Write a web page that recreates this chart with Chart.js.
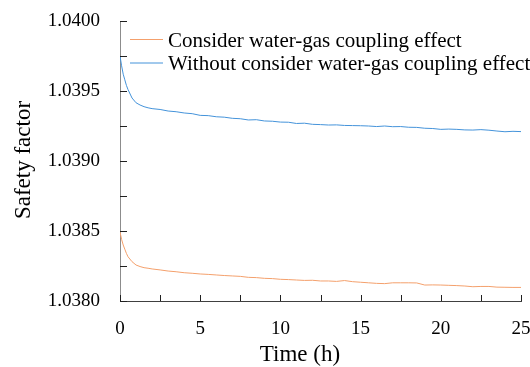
<!DOCTYPE html>
<html>
<head>
<meta charset="utf-8">
<script src="https://cdn.jsdelivr.net/npm/chart.js@4"></script>
<style>
  body { margin: 0; background: #fff; }
</style>
</head>
<body>
<canvas id="safetyChart" width="530" height="367"></canvas>
<script>
//=[ Data ]=====================================================================

const timeHours = [
  0, 0.1, 0.2, 0.3, 0.4, 0.5, 0.75, 1, 1.25, 1.5, 1.75, 2,
  2.5, 3, 3.5, 4, 4.5, 5, 5.5, 6, 6.5, 7, 7.5, 8, 8.5, 9, 9.5, 10,
  10.5, 11, 11.5, 12, 12.5, 13, 13.5, 14, 14.5, 15, 15.5, 16, 16.5, 17,
  17.5, 18, 18.5, 19, 19.5, 20, 20.5, 21, 21.5, 22, 22.5, 23, 23.5, 24,
  24.5, 25,
];

const coupledSafety = [
  1.038493, 1.03844, 1.0384, 1.03837, 1.03834, 1.038316, 1.038281, 1.038257,
  1.038246, 1.038238, 1.038234, 1.038229,
  1.038222, 1.038214, 1.038209, 1.038202, 1.038198, 1.038193, 1.03819, 1.038186,
  1.038182, 1.038179, 1.038176, 1.038169, 1.038167, 1.038162, 1.03816, 1.038155,
  1.038153, 1.03815, 1.038147, 1.038148, 1.038143, 1.038143, 1.03814, 1.038146,
  1.038138, 1.038134, 1.03813, 1.038126, 1.038124, 1.03813, 1.03813, 1.03813,
  1.038129, 1.038114, 1.038115, 1.038114, 1.038112, 1.03811, 1.038107, 1.038102,
  1.038104, 1.038104, 1.038099, 1.038098, 1.038097, 1.038097,
];

const uncoupledSafety = [
  1.03975, 1.03968, 1.03962, 1.03958, 1.03954, 1.03951, 1.03945, 1.039416,
  1.0394, 1.039388, 1.03938, 1.039374,
  1.039368, 1.039357, 1.039352, 1.039343, 1.039338, 1.039326, 1.039324, 1.039316,
  1.039313, 1.039305, 1.039302, 1.039293, 1.039295, 1.039286, 1.039284, 1.039278,
  1.039277, 1.039268, 1.03927, 1.039262, 1.03926, 1.039257, 1.039258, 1.039254,
  1.039253, 1.039252, 1.03925, 1.039246, 1.03925, 1.039245, 1.039246, 1.039241,
  1.03924, 1.039234, 1.039232, 1.039226, 1.039228, 1.039226, 1.039222, 1.039221,
  1.039224, 1.03922, 1.039214, 1.039209, 1.039212, 1.03921,
];

const seriesLabels = [
  "Consider water-gas coupling effect",
  "Without consider water-gas coupling effect",
];

const xTicks = [0, 2.5, 5, 7.5, 10, 12.5, 15, 17.5, 20, 22.5, 25];
const yTicks = [1.038, 1.03825, 1.0385, 1.03875, 1.039, 1.03925, 1.0395, 1.03975, 1.04];

//=[ Chart ]====================================================================

const SERIF = "'Liberation Serif', 'Times New Roman', serif";
const TICK_FONT = { family: SERIF, size: 19 };

const toPoints = (ys) => ys.map((y, i) => ({ x: timeHours[i], y }));

// inward tick marks, axis titles and the in-plot legend
const innerDecor = {
  id: "innerDecor",
  afterDraw(chart) {
    const { ctx, chartArea, scales } = chart;
    ctx.save();
    ctx.strokeStyle = "#202020";
    ctx.lineWidth = 1;
    ctx.beginPath();
    xTicks.forEach((v) => {
      const px = Math.round(scales.x.getPixelForValue(v)) + 0.5;
      ctx.moveTo(px, chartArea.bottom);
      ctx.lineTo(px, chartArea.bottom - 6);
    });
    yTicks.forEach((v) => {
      const py = Math.round(scales.y.getPixelForValue(v)) + 0.5;
      ctx.moveTo(chartArea.left, py);
      ctx.lineTo(chartArea.left + 7, py);
    });
    ctx.stroke();

    ctx.fillStyle = "#000";
    ctx.textBaseline = "alphabetic";
    ctx.textAlign = "center";
    ctx.font = `23px ${SERIF}`;
    ctx.fillText("Time (h)", 300, 361);
    ctx.save();
    ctx.translate(30, 160);
    ctx.rotate(-Math.PI / 2);
    ctx.fillText("Safety factor", 0, 0);
    ctx.restore();

    ctx.textAlign = "left";
    ctx.font = `21px ${SERIF}`;
    chart.data.datasets.forEach((ds, i) => {
      const ly = 39.5 + i * 23.5;
      ctx.strokeStyle = ds.borderColor;
      ctx.beginPath();
      ctx.moveTo(130, ly);
      ctx.lineTo(163, ly);
      ctx.stroke();
      ctx.fillText(ds.label, 168, ly + 7);
    });
    ctx.restore();
  },
};

const safetyConfig = {
  type: "line",
  data: {
    datasets: [
      {
        label: seriesLabels[0],
        data: toPoints(coupledSafety),
        borderColor: "#f4a06c",
      },
      {
        label: seriesLabels[1],
        data: toPoints(uncoupledSafety),
        borderColor: "#4493da",
      },
    ],
  },
  options: {
    responsive: false,
    animation: false,
    layout: { padding: { top: 21, right: 9, left: 0, bottom: 0 } },
    elements: {
      line: { borderWidth: 1, tension: 0 },
      point: { radius: 0 },
    },
    scales: {
      x: {
        type: "linear",
        min: 0,
        max: 25,
        afterBuildTicks: (scale) => {
          scale.ticks = xTicks.map((value) => ({ value }));
        },
        afterFit: (scale) => {
          scale.height = 66;
          scale.paddingLeft = 0;
          scale.paddingRight = 0;
        },
        grid: { display: false, drawTicks: false },
        border: { display: true, color: "#404040", width: 1 },
        ticks: {
          autoSkip: false,
          maxRotation: 0,
          padding: 17,
          color: "#000",
          font: TICK_FONT,
          callback: (v) => (v % 5 === 0 ? String(v) : ""),
        },
      },
      y: {
        min: 1.038,
        max: 1.04,
        afterBuildTicks: (scale) => {
          scale.ticks = yTicks.map((value) => ({ value }));
        },
        afterFit: (scale) => {
          scale.width = 120;
          scale.paddingTop = 0;
          scale.paddingBottom = 0;
        },
        grid: { display: false, drawTicks: false },
        border: { display: true, color: "#8c8c8c", width: 1 },
        ticks: {
          autoSkip: false,
          padding: 20,
          color: "#000",
          font: TICK_FONT,
          callback: (v) =>
            Math.round(v * 10000) % 5 === 0 ? v.toFixed(4) : "",
        },
      },
    },
    plugins: {
      legend: { display: false },
      tooltip: { enabled: false },
    },
  },
};

Chart.register(innerDecor);
new Chart(document.getElementById("safetyChart"), safetyConfig);
</script>
</body>
</html>
